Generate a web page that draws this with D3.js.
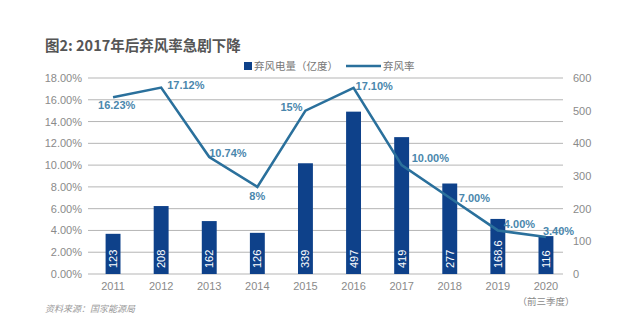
<!DOCTYPE html>
<html><head><meta charset="utf-8">
<script src="https://cdn.jsdelivr.net/npm/d3@7/dist/d3.min.js"></script>
<style>
body{margin:0;background:#fff;}
svg{display:block;font-family:"Noto Sans CJK SC","Liberation Sans",Arial,sans-serif;}
</style></head>
<body><svg id="c" width="636" height="335"></svg>
<script>
const categories = ["2011","2012","2013","2014","2015","2016","2017","2018","2019","2020"];
const curtailedPower = [123,208,162,126,339,497,419,277,168.6,116];
const curtailedLabels = ["123","208","162","126","339","497","419","277","168.6","116"];
const curtailmentRate = [16.23,17.12,10.74,8,15,17.10,10.00,7.00,4.00,3.40];
const rateLabels = ["16.23%","17.12%","10.74%","8%","15%","17.10%","10.00%","7.00%","4.00%","3.40%"];
const leftTicks = [0,2,4,6,8,10,12,14,16,18];
const rightTicks = [0,100,200,300,400,500,600];

const svg = d3.select("#c");
const plotTop = 78, plotBottom = 274, plotLeft = 88, gridRight = 563;
const x = d3.scaleBand().domain(categories).range([89,570]).paddingInner(0.69).paddingOuter(0.345);
const yL = d3.scaleLinear().domain([0,18]).range([plotBottom, plotTop]);
const yR = d3.scaleLinear().domain([0,600]).range([plotBottom, plotTop]);

// title
svg.append("text").attr("x",45).attr("y",51).attr("font-size",14.5).attr("font-weight","bold")
  .attr("fill","#555").text("图2: 2017年后弃风率急剧下降");

// gridlines
svg.append("g").selectAll("line").data(leftTicks).join("line")
  .attr("x1",plotLeft).attr("x2",gridRight).attr("y1",d=>yL(d)).attr("y2",d=>yL(d))
  .attr("stroke","#b5b5b5").attr("stroke-width",1);

// left axis labels
svg.append("g").selectAll("text").data(leftTicks).join("text")
  .attr("x",82).attr("y",d=>yL(d)+4).attr("text-anchor","end").attr("font-size",11)
  .attr("font-family","Liberation Sans, Arial, sans-serif")
  .attr("fill","#8a8a8a").text(d=>d.toFixed(2)+"%");

// right axis labels
svg.append("g").selectAll("text").data(rightTicks).join("text")
  .attr("x",573).attr("y",d=>yR(d)+4).attr("text-anchor","start").attr("font-size",11)
  .attr("font-family","Liberation Sans, Arial, sans-serif")
  .attr("fill","#8a8a8a").text(d=>d);

// bars
svg.append("g").selectAll("rect").data(categories).join("rect")
  .attr("x",d=>x(d)).attr("width",x.bandwidth())
  .attr("y",(d,i)=>yR(curtailedPower[i])).attr("height",(d,i)=>plotBottom-yR(curtailedPower[i]))
  .attr("fill","#0e418a");

// bar labels
svg.append("g").selectAll("text").data(categories).join("text")
  .attr("transform",(d,i)=>`translate(${x(d)+x.bandwidth()/2+4},${plotBottom-6}) rotate(-90)`)
  .attr("text-anchor","start").attr("font-size",11)
  .attr("font-family","Liberation Sans, Arial, sans-serif")
  .attr("fill","#fff").text((d,i)=>curtailedLabels[i]);

// line
const cx = d=>x(d)+x.bandwidth()/2;
const line = d3.line().x((d,i)=>cx(categories[i])).y(d=>yL(d));
svg.append("path").datum(curtailmentRate).attr("d",line).attr("fill","none")
  .attr("stroke","#2a709c").attr("stroke-width",2.6).attr("stroke-linejoin","miter");

// line labels (offsets relative to point)
const offs = [[-15,12],[6,1],[0,0],[-8,13],[-25,0],[2,2],[10,-3],[9,4],[6,-2],[-3,-2]];
svg.append("g").selectAll("text").data(curtailmentRate).join("text")
  .attr("x",(d,i)=>cx(categories[i])+offs[i][0]).attr("y",(d,i)=>yL(d)+offs[i][1])
  .attr("font-size",11).attr("font-weight","bold")
  .attr("font-family","Liberation Sans, Arial, sans-serif")
  .attr("fill","#4a87ad").text((d,i)=>rateLabels[i]);

// x labels
svg.append("g").selectAll("text").data(categories).join("text")
  .attr("x",d=>cx(d)).attr("y",290).attr("text-anchor","middle").attr("font-size",11)
  .attr("font-family","Liberation Sans, Arial, sans-serif")
  .attr("fill","#8a8a8a").text(d=>d);
svg.append("text").attr("x",cx("2020")).attr("y",305).attr("text-anchor","middle")
  .attr("font-size",9.5).attr("fill","#8a8a8a").text("（前三季度）");

// legend
svg.append("rect").attr("x",244).attr("y",62).attr("width",8).attr("height",8).attr("fill","#0e418a");
svg.append("text").attr("x",254).attr("y",70).attr("font-size",10.5).attr("fill","#777").text("弃风电量（亿度）");
svg.append("line").attr("x1",346).attr("x2",381).attr("y1",66).attr("y2",66).attr("stroke","#2a709c").attr("stroke-width",2.6);
svg.append("text").attr("x",383).attr("y",70).attr("font-size",10.5).attr("fill","#777").text("弃风率");

// source
svg.append("text").attr("x",45).attr("y",312).attr("font-size",9).attr("font-style","italic")
  .attr("fill","#999").text("资料来源：国家能源局");
</script></body></html>
